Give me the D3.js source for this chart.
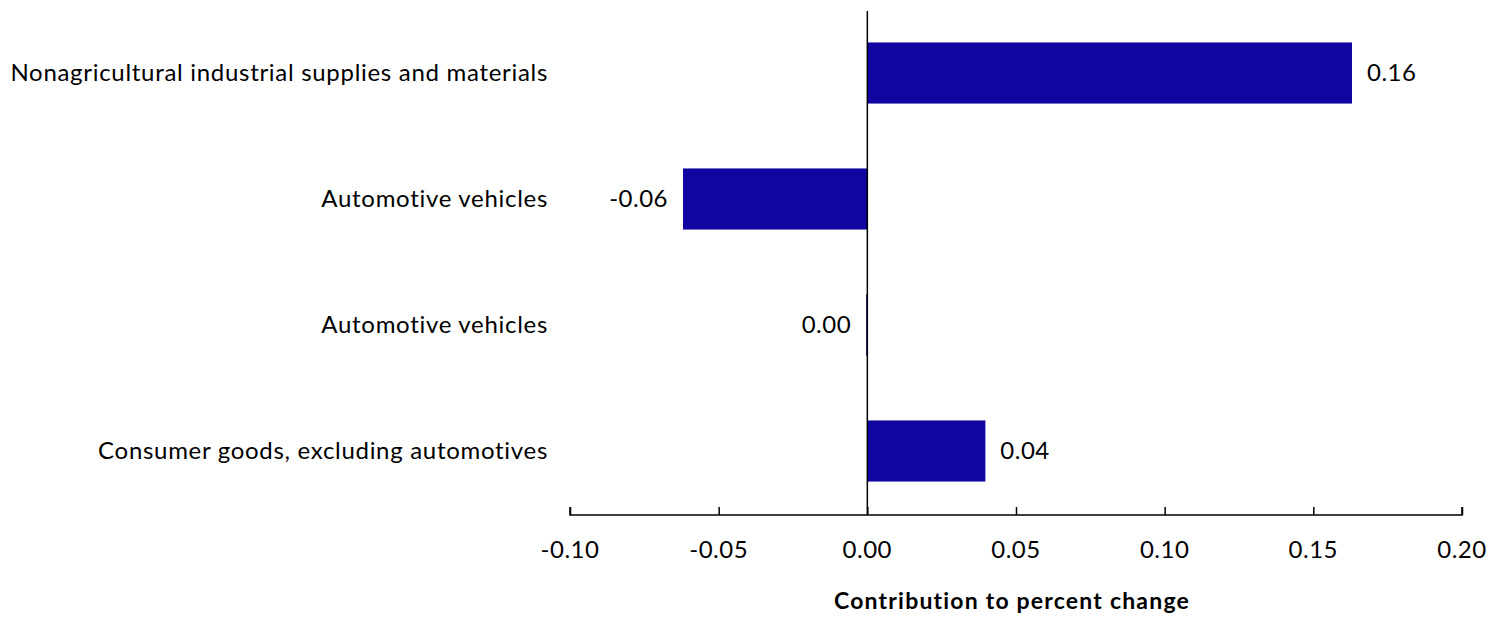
<!DOCTYPE html>
<html><head><meta charset="utf-8">
<script src="https://cdn.jsdelivr.net/npm/d3@7"></script>
<style>body{margin:0;background:#fff;} text{font-family:Lato, "Open Sans", sans-serif;}</style>
</head><body><svg id="c" width="1502" height="620"></svg>
<script>
const categories = ["Nonagricultural industrial supplies and materials","Automotive vehicles","Automotive vehicles ","Consumer goods, excluding automotives"];
const values = [0.163, -0.062, -0.0004, 0.0397];
const valueLabels = ["0.16","-0.06","0.00","0.04"];
const tickValues = [-0.10,-0.05,0.00,0.05,0.10,0.15,0.20];
const axisTitle = "Contribution to percent change";

const svg = d3.select("#c");
const x = d3.scaleLinear().domain([-0.10,0.20]).range([570,1462]);
const y = d3.scaleBand().domain(categories).range([10,514]).paddingInner(0.515).paddingOuter(0.2575);
const color = "#1005A0";
const fmt = d => d3.format(".2f")(d).replace("\u2212","-");

svg.selectAll("rect.bar").data(values).join("rect")
  .attr("x", d=>x(Math.min(0,d))).attr("width", d=>Math.abs(x(d)-x(0)))
  .attr("y",(d,i)=>y(categories[i])).attr("height",y.bandwidth()).attr("fill",color);

// zero line
svg.append("line").attr("x1",x(0)).attr("x2",x(0)).attr("y1",11).attr("y2",515).attr("stroke","#000").attr("stroke-width",1.5);

// axis
const ax = svg.append("g").attr("transform","translate(0,515)")
  .call(d3.axisTop(x).tickValues(tickValues).tickSize(8).tickFormat(""));
ax.select(".domain").attr("stroke","#000").attr("stroke-width",1.5).attr("d",`M${x(-0.10)},-8V0H${x(0.20)}V-8`);
ax.selectAll(".tick line").attr("stroke","#000").attr("stroke-width",1.5);
svg.selectAll("text.tick").data(tickValues).join("text").attr("class","tick")
  .attr("x",d=>x(d)).attr("y",558).attr("text-anchor","middle").attr("font-size",24).attr("letter-spacing",0.5).attr("fill","#000")
  .text(d=>fmt(d));

// category labels
svg.selectAll("text.cat").data(categories).join("text").attr("class","cat")
  .attr("x",548).attr("y",d=>y(d)+y.bandwidth()/2+8).attr("text-anchor","end").attr("font-size",24).attr("letter-spacing",0.7).attr("fill","#000")
  .text(d=>d.trim());

// value labels
svg.selectAll("text.val").data(values).join("text").attr("class","val")
  .attr("x",d=>d>=0 ? x(d)+15 : x(d)-15)
  .attr("y",(d,i)=>y(categories[i])+y.bandwidth()/2+8)
  .attr("text-anchor",d=>d>=0?"start":"end").attr("font-size",24).attr("letter-spacing",0.5).attr("fill","#000")
  .text((d,i)=>valueLabels[i]);

svg.append("text").attr("x",1012).attr("y",609).attr("text-anchor","middle").attr("font-size",23).attr("letter-spacing",1.2).attr("font-weight","bold").text(axisTitle);
</script></body></html>
